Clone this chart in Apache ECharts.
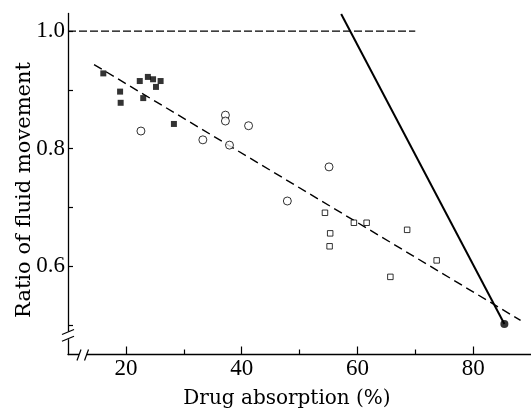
<!DOCTYPE html>
<html><head><meta charset="utf-8">
<script src="https://cdn.jsdelivr.net/npm/echarts@6/dist/echarts.min.js"></script>
<style>html,body{margin:0;padding:0;background:#fff}#c{width:531px;height:409px}</style>
</head><body><div id="c"></div>
<script>
// data (x: drug absorption %, y: ratio of fluid movement)
const filledSquares = [[16.1,0.928],[22.4,0.915],[23.8,0.922],[24.7,0.918],[26.0,0.915],[25.2,0.905],[19.0,0.897],[19.1,0.878],[23.0,0.886],[28.3,0.842]];
const openCircles = [[22.6,0.830],[37.2,0.857],[37.2,0.847],[41.2,0.839],[33.3,0.815],[37.9,0.806],[47.9,0.711],[55.1,0.769]];
const openSquares = [[54.4,0.691],[59.4,0.674],[61.6,0.674],[55.3,0.656],[55.2,0.634],[68.6,0.662],[73.7,0.610],[65.7,0.582]];
const filledDot = [[85.4,0.502]];
const regressionLine = [[14.5,0.943],[88.2,0.508]];
const steepLine = [[57.2,1.029],[85.4,0.502]];
const unityLine = [[10,1.0],[70,1.0]];
const xTickLabels = [20,40,60,80];
const xMinorTicks = [30,50,70];
const yTickLabels = [0.6,0.8,1.0];
const yTicks = [0.5,0.6,0.7,0.8,0.9,1.0];

const FONT = 'DejaVu Serif';
const NUMFONT = 'Liberation Serif';
const chart = echarts.init(document.getElementById('c'), null, {renderer:'canvas'});
const xRange = {min:10, max:90};
chart.setOption({
  animation:false,
  backgroundColor:'#fff',
  grid:{left:68, right:0, top:13.4, bottom:54.5, containLabel:false, outerBoundsMode:'none'},
  xAxis:[{
    type:'value', min:xRange.min, max:xRange.max, interval:10,
    name:'Drug absorption (%)', nameLocation:'middle', nameGap:34, nameMoveOverlap:false,
    nameTextStyle:{fontFamily:FONT, fontSize:20, color:'#000', padding:[0,25,0,0]},
    axisLine:{show:true, lineStyle:{color:'#000', width:1.3}},
    axisTick:{show:true, inside:true, length:8, customValues:xTickLabels, lineStyle:{color:'#000', width:1.2}},
    axisLabel:{customValues:xTickLabels, fontFamily:NUMFONT, fontSize:23, color:'#000', margin:3},
    splitLine:{show:false}
  },{
    type:'value', min:xRange.min, max:xRange.max, position:'bottom', offset:0,
    axisLine:{show:false},
    axisTick:{show:true, inside:true, length:5, customValues:xMinorTicks, lineStyle:{color:'#000', width:1.2}},
    axisLabel:{show:false}, splitLine:{show:false}
  }],
  yAxis:{
    type:'value', min:0.45, max:1.03,
    name:'Ratio of fluid movement', nameLocation:'middle', nameGap:33, nameMoveOverlap:false,
    nameTextStyle:{fontFamily:FONT, fontSize:21, color:'#000', padding:[0,12,0,0]},
    axisLine:{show:true, lineStyle:{color:'#000', width:1.3}},
    axisTick:{show:true, inside:true, length:5, customValues:yTicks, lineStyle:{color:'#000', width:1.2}},
    axisLabel:{customValues:yTickLabels, fontFamily:NUMFONT, fontSize:23, color:'#000', margin:3,
      padding:[5,0,0,0], formatter:v=>Number(v).toFixed(1)},
    splitLine:{show:false}
  },
  series:[
    {type:'line', data:unityLine, symbol:'none', lineStyle:{color:'#000', width:1.3, type:[8,3]}, z:2},
    {type:'line', data:regressionLine, symbol:'none', lineStyle:{color:'#000', width:1.4, type:[9,5]}, z:2},
    {type:'line', data:steepLine, symbol:'none', clip:false, lineStyle:{color:'#000', width:2}, z:2},
    {type:'scatter', data:filledSquares, symbol:'rect', symbolSize:6, itemStyle:{color:'#000'}, z:3},
    {type:'scatter', data:openCircles, symbol:'circle', symbolSize:8, itemStyle:{color:'#fff', borderColor:'#000', borderWidth:1}, z:3},
    {type:'scatter', data:openSquares, symbol:'rect', symbolSize:5.5, itemStyle:{color:'#fff', borderColor:'#000', borderWidth:1}, z:3},
    {type:'scatter', data:filledDot, symbol:'circle', symbolSize:8, itemStyle:{color:'#000'}, z:3}
  ]
});

// axis break marks, positioned through the chart's own scales
const yb1 = chart.convertToPixel({yAxisIndex:0}, 0.489);
const yb2 = chart.convertToPixel({yAxisIndex:0}, 0.476);
const xAxisX = chart.convertToPixel({xAxisIndex:0}, 10);
const xAxisY = chart.convertToPixel({yAxisIndex:0}, 0.45);
const xb1 = chart.convertToPixel({xAxisIndex:0}, 11.9);
const xb2 = chart.convertToPixel({xAxisIndex:0}, 13.2);
const ls = {stroke:'#000', lineWidth:1.2};
chart.setOption({graphic:[
  {type:'rect', z:100, shape:{x:xAxisX-2, y:yb1, width:4, height:yb2-yb1}, style:{fill:'#fff'}},
  {type:'line', z:101, shape:{x1:xAxisX-6, y1:yb1+3, x2:xAxisX+6, y2:yb1-2}, style:ls},
  {type:'line', z:101, shape:{x1:xAxisX-6, y1:yb2+2, x2:xAxisX+6, y2:yb2-3}, style:ls},
  {type:'rect', z:100, shape:{x:xb1, y:xAxisY-2, width:xb2-xb1, height:4}, style:{fill:'#fff'}},
  {type:'line', z:101, shape:{x1:xb1-2, y1:xAxisY+6, x2:xb1+2, y2:xAxisY-5}, style:ls},
  {type:'line', z:101, shape:{x1:xb2-2, y1:xAxisY+6, x2:xb2+2, y2:xAxisY-5}, style:ls}
]});
</script></body></html>
